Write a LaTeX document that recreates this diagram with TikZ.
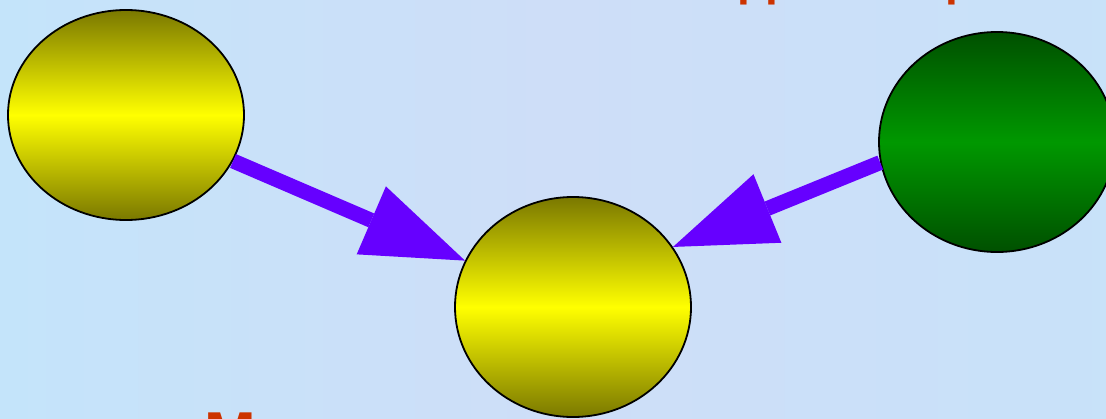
\documentclass[tikz,border=0pt]{standalone}
\usepackage{fontspec}
\setmainfont{Liberation Sans}
\usetikzlibrary{arrows.meta,shapes.geometric}
\definecolor{bg}{RGB}{206,222,248}
\definecolor{bg2}{RGB}{196,228,250}
\definecolor{olive}{RGB}{122,120,0}
\definecolor{ylw}{RGB}{255,255,0}
\definecolor{dgreen}{RGB}{0,80,0}
\definecolor{mgreen}{RGB}{0,152,0}
\definecolor{arrowc}{RGB}{102,0,255}
\definecolor{txt}{RGB}{204,51,0}
\tikzset{
  ball/.style={ellipse, draw=black, line width=1.8pt, inner sep=0pt,
    minimum width=236pt, minimum height=220pt},
  yball/.style={ball, top color=olive, bottom color=olive, middle color=ylw},
  gball/.style={ball, top color=dgreen, bottom color=dgreen, middle color=mgreen},
  arr/.style={arrowc, line width=15pt,
    -{Triangle[length=102pt,width=74pt,line width=0pt]}},
  frag/.style={text=txt, font=\fontsize{46}{46}\selectfont\bfseries, inner sep=0pt, anchor=base west}
}
\begin{document}
\begin{tikzpicture}[x=1pt,y=-1pt]
\useasboundingbox (0,0) rectangle (1106,418);
\clip (0,0) rectangle (1106,418);
\shade[left color=bg2, right color=bg] (0,0) rectangle (553,418);
\shade[left color=bg, right color=bg2!60!bg] (553,0) rectangle (1106,418);
\node[frag] (t1) at (737,-4.7) {pp};
\node[frag] (t2) at (945,-4.7) {p};
\node[frag, font=\fontsize{62}{62}\selectfont\bfseries] (t3) at (204,455) {M};
\node[yball, minimum height=210pt] (L) at (126,115) {};
\node[yball] (M) at (573,307) {};
\node[gball] (R) at (997,142) {};
\draw[arr] (L) -- (M);
\draw[arr] (R.190) -- (M.31);
\end{tikzpicture}
\end{document}
